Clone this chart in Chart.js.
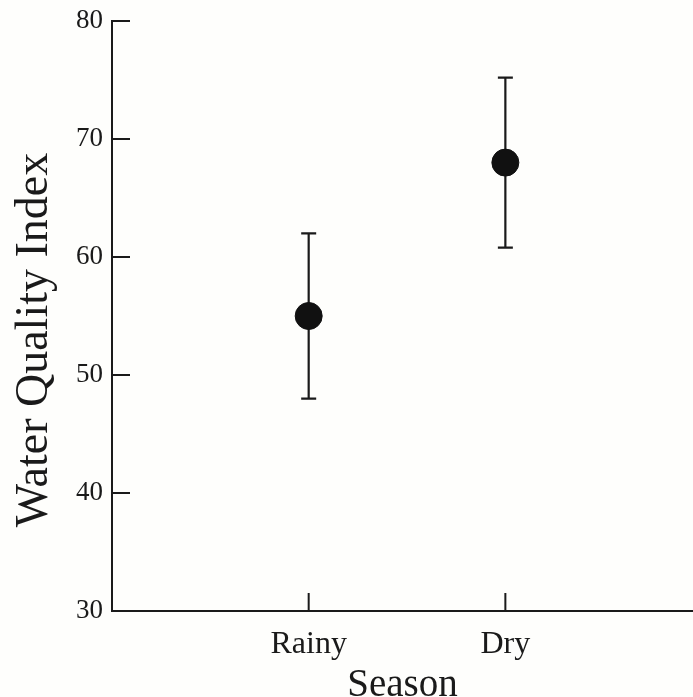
<!DOCTYPE html>
<html>
<head>
<meta charset="utf-8">
<script src="https://cdn.jsdelivr.net/npm/chart.js@4.4.1/dist/chart.umd.min.js"></script>
<style>
  html, body { margin: 0; padding: 0; background: #fefefc; }
  #wrap { width: 693px; height: 697px; }
</style>
</head>
<body>
<div id="wrap"><canvas id="wqiChart"></canvas></div>
<script>
// Season means with error bars
const seasons = ['Rainy', 'Dry'];
const meanValues = [55, 68];
const errLow = [48, 60.8];
const errHigh = [62, 75.2];
const yTicks = [30, 40, 50, 60, 70, 80];
const yTitle = 'Water Quality Index';

const ink = '#1a1a1a';
const serif = '"Liberation Serif", "Times New Roman", serif';

// error bars, inward tick marks, y title
const errorBarPlugin = {
    id: 'errorBars',
    beforeDatasetsDraw(chart) {
        const { ctx, scales: { x, y } } = chart;
        ctx.save();
        ctx.strokeStyle = ink;
        ctx.lineWidth = 2.2;
        seasons.forEach((s, i) => {
            const px = x.getPixelForValue(i + 1);
            const top = y.getPixelForValue(errHigh[i]);
            const bot = y.getPixelForValue(errLow[i]);
            ctx.beginPath();
            ctx.moveTo(px, top); ctx.lineTo(px, bot);
            ctx.moveTo(px - 7.5, top); ctx.lineTo(px + 7.5, top);
            ctx.moveTo(px - 7.5, bot); ctx.lineTo(px + 7.5, bot);
            ctx.stroke();
        });
        ctx.restore();
    },
    afterDraw(chart) {
        const { ctx, chartArea, scales: { x, y } } = chart;
        ctx.save();
        ctx.strokeStyle = ink;
        ctx.lineWidth = 2;
        ctx.beginPath();
        y.ticks.forEach(t => {
            const py = Math.round(y.getPixelForValue(t.value));
            ctx.moveTo(chartArea.left, py); ctx.lineTo(chartArea.left + 18, py);
        });
        x.ticks.forEach(t => {
            const px = x.getPixelForValue(t.value);
            ctx.moveTo(px, chartArea.bottom); ctx.lineTo(px, chartArea.bottom - 18);
        });
        ctx.stroke();

        // y title sits a bit below the plot centre in the original
        ctx.translate(35, 340);
        ctx.rotate(-Math.PI / 2);
        ctx.fillStyle = ink;
        ctx.font = '46px ' + serif;
        ctx.textAlign = 'center';
        ctx.textBaseline = 'middle';
        ctx.fillText(yTitle, 0, 0);
        ctx.restore();
    }
};

new Chart(document.getElementById('wqiChart'), {
    type: 'scatter',
    data: {
        datasets: [{
            data: meanValues.map((v, i) => ({ x: i + 1, y: v })),
            backgroundColor: '#111111',
            borderColor: '#111111',
            pointRadius: 13.5,
            pointHoverRadius: 13.5
        }]
    },
    options: {
        responsive: true,
        maintainAspectRatio: false,
        animation: false,
        layout: { autoPadding: false, padding: { top: 21, right: 0, bottom: 0, left: 0 } },
        plugins: { legend: { display: false }, tooltip: { enabled: false } },
        scales: {
            x: {
                type: 'linear',
                min: 0,
                max: 2.954,
                afterBuildTicks: s => { s.ticks = seasons.map((_, i) => ({ value: i + 1 })); },
                afterFit: s => { s.height = 86; s.paddingLeft = 0; s.paddingRight = 0; },
                grid: { display: false, drawTicks: false },
                border: { display: true, color: ink, width: 2 },
                ticks: {
                    padding: 14,
                    color: ink,
                    maxRotation: 0,
                    font: { family: serif, size: 32 },
                    callback: v => seasons[v - 1] || ''
                },
                title: {
                    display: true,
                    text: 'Season',
                    color: ink,
                    font: { family: serif, size: 39, lineHeight: 0.7 },
                    padding: { top: 0, bottom: -2 }
                }
            },
            y: {
                min: 30,
                max: 80,
                afterBuildTicks: s => { s.ticks = yTicks.map(v => ({ value: v })); },
                afterFit: s => { s.width = 112; s.paddingTop = 0; s.paddingBottom = 0; },
                grid: { display: false, drawTicks: false },
                border: { display: true, color: ink, width: 2 },
                ticks: {
                    padding: 9,
                    color: ink,
                    font: { family: serif, size: 27 }
                }
            }
        }
    },
    plugins: [errorBarPlugin]
});
</script>
</body>
</html>
